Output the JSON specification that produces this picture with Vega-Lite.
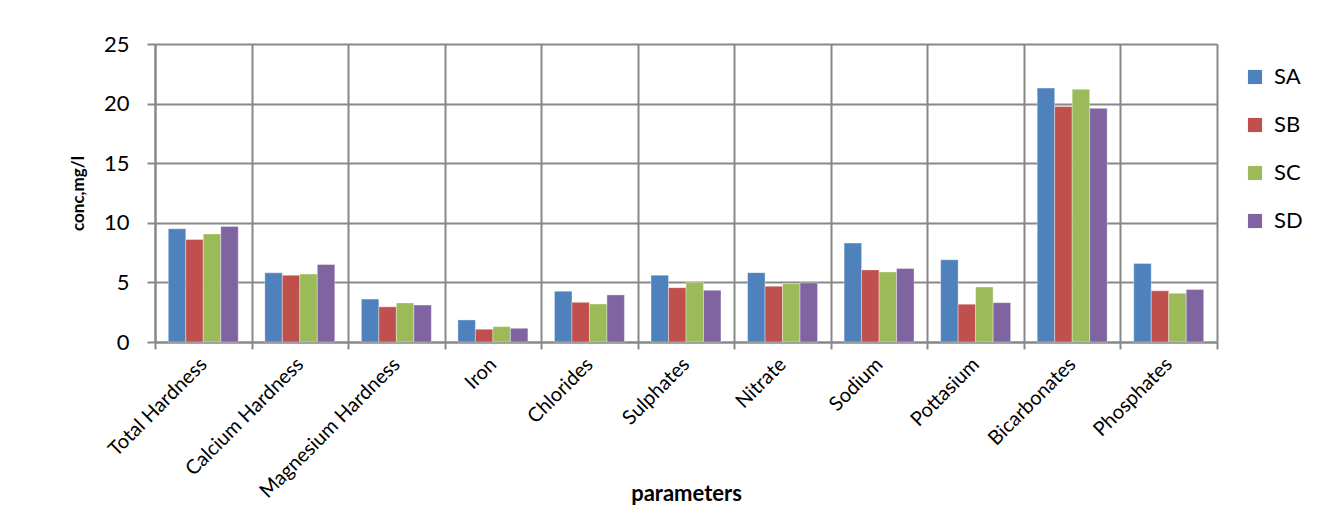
{
  "$schema": "https://vega.github.io/schema/vega-lite/v6.json",
  "width": 1062,
  "height": 298,
  "autosize": "none",
  "padding": {"left": 155, "top": 44, "right": 114, "bottom": 174},
  "background": "white",
  "config": {
    "font": "Lato",
    "view": {"stroke": null}
  },
  "data": {
    "values": [
      {"parameter": "Total Hardness", "series": "SA", "value": 9.5},
      {"parameter": "Total Hardness", "series": "SB", "value": 8.6},
      {"parameter": "Total Hardness", "series": "SC", "value": 9.07},
      {"parameter": "Total Hardness", "series": "SD", "value": 9.7},
      {"parameter": "Calcium Hardness", "series": "SA", "value": 5.8},
      {"parameter": "Calcium Hardness", "series": "SB", "value": 5.6},
      {"parameter": "Calcium Hardness", "series": "SC", "value": 5.7},
      {"parameter": "Calcium Hardness", "series": "SD", "value": 6.5},
      {"parameter": "Magnesium Hardness", "series": "SA", "value": 3.6},
      {"parameter": "Magnesium Hardness", "series": "SB", "value": 2.95},
      {"parameter": "Magnesium Hardness", "series": "SC", "value": 3.28},
      {"parameter": "Magnesium Hardness", "series": "SD", "value": 3.1},
      {"parameter": "Iron", "series": "SA", "value": 1.85},
      {"parameter": "Iron", "series": "SB", "value": 1.07},
      {"parameter": "Iron", "series": "SC", "value": 1.29},
      {"parameter": "Iron", "series": "SD", "value": 1.15},
      {"parameter": "Chlorides", "series": "SA", "value": 4.26},
      {"parameter": "Chlorides", "series": "SB", "value": 3.33},
      {"parameter": "Chlorides", "series": "SC", "value": 3.19},
      {"parameter": "Chlorides", "series": "SD", "value": 3.95},
      {"parameter": "Sulphates", "series": "SA", "value": 5.6},
      {"parameter": "Sulphates", "series": "SB", "value": 4.56},
      {"parameter": "Sulphates", "series": "SC", "value": 5.0},
      {"parameter": "Sulphates", "series": "SD", "value": 4.34},
      {"parameter": "Nitrate", "series": "SA", "value": 5.82},
      {"parameter": "Nitrate", "series": "SB", "value": 4.68},
      {"parameter": "Nitrate", "series": "SC", "value": 4.9},
      {"parameter": "Nitrate", "series": "SD", "value": 4.96},
      {"parameter": "Sodium", "series": "SA", "value": 8.3},
      {"parameter": "Sodium", "series": "SB", "value": 6.05},
      {"parameter": "Sodium", "series": "SC", "value": 5.88},
      {"parameter": "Sodium", "series": "SD", "value": 6.16},
      {"parameter": "Pottasium", "series": "SA", "value": 6.9},
      {"parameter": "Pottasium", "series": "SB", "value": 3.17},
      {"parameter": "Pottasium", "series": "SC", "value": 4.62},
      {"parameter": "Pottasium", "series": "SD", "value": 3.3},
      {"parameter": "Bicarbonates", "series": "SA", "value": 21.3},
      {"parameter": "Bicarbonates", "series": "SB", "value": 19.75},
      {"parameter": "Bicarbonates", "series": "SC", "value": 21.2},
      {"parameter": "Bicarbonates", "series": "SD", "value": 19.6},
      {"parameter": "Phosphates", "series": "SA", "value": 6.58},
      {"parameter": "Phosphates", "series": "SB", "value": 4.29},
      {"parameter": "Phosphates", "series": "SC", "value": 4.09},
      {"parameter": "Phosphates", "series": "SD", "value": 4.4}
    ]
  },
  "mark": {"type": "bar", "stroke": "#ffffff", "strokeWidth": 0.6, "strokeOpacity": 0.6},
  "encoding": {
    "x": {
      "field": "parameter",
      "type": "nominal",
      "sort": null,
      "scale": {"paddingInner": 0, "paddingOuter": 0},
      "axis": {
        "title": "parameters",
        "titleFontSize": 22,
        "titleFontWeight": "bold",
        "titleColor": "#000000",
        "titleY": 151,
        "titleBaseline": "middle",
        "labelAngle": -45,
        "labelAlign": "right",
        "labelBaseline": "middle",
        "labelFontSize": 20,
        "labelColor": "#000000",
        "labelPadding": 12,
        "labelLimit": 400,
        "tickBand": "extent",
        "tickSize": 7,
        "tickColor": "#888888",
        "tickWidth": 2,
        "grid": true,
        "gridColor": "#888888",
        "gridWidth": 2,
        "domainColor": "#888888",
        "domainWidth": 2
      }
    },
    "xOffset": {
      "field": "series",
      "type": "nominal",
      "scale": {"paddingInner": 0, "paddingOuter": 0.76}
    },
    "y": {
      "field": "value",
      "type": "quantitative",
      "scale": {"domain": [0, 25], "nice": false},
      "axis": {
        "title": "conc,mg/l",
        "titleFontSize": 17,
        "titleFontWeight": "bold",
        "titleColor": "#000000",
        "titlePadding": 16,
        "values": [0, 5, 10, 15, 20, 25],
        "labelFontSize": 22,
        "labelColor": "#000000",
        "labelPadding": 18,
        "tickSize": 8,
        "tickColor": "#888888",
        "tickWidth": 2,
        "grid": true,
        "gridColor": "#888888",
        "gridWidth": 2,
        "domainColor": "#888888",
        "domainWidth": 2
      }
    },
    "color": {
      "field": "series",
      "type": "nominal",
      "scale": {
        "domain": ["SA", "SB", "SC", "SD"],
        "range": ["#4F81BD", "#C0504D", "#9BBB59", "#8064A2"]
      },
      "legend": {
        "title": null,
        "orient": "none",
        "legendX": 1089,
        "legendY": 22,
        "symbolType": "square",
        "symbolSize": 200,
        "symbolStrokeWidth": 0,
        "labelFontSize": 22,
        "labelColor": "#000000",
        "labelOffset": 8,
        "rowPadding": 26
      }
    }
  }
}
